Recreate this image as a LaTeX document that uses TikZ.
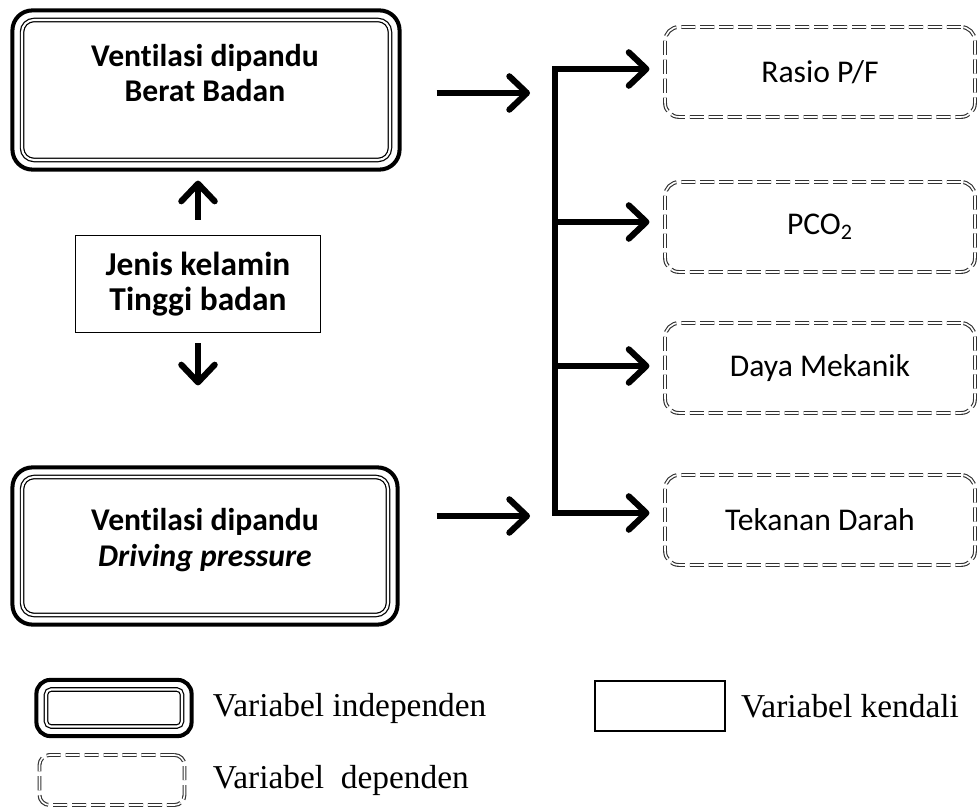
\documentclass[tikz,border=0pt]{standalone}
\usepackage{fontspec}
\setmainfont{Carlito}[Ligatures=NoCommon]
\newfontfamily\legfont{Liberation Serif}
\usetikzlibrary{arrows.meta,positioning,fit}

\begin{document}
\begin{tikzpicture}[
  x=0.02cm, y=-0.02cm,
  indep/.style={draw, double, line width=0.7pt, double distance=1.2pt, rounded corners=0.24cm, inner sep=0pt},
  frame/.style={draw, line width=2.3pt, rounded corners=0.4cm, inner sep=0.18cm},
  boxtext/.style={align=center, inner sep=0pt, font=\bfseries\fontsize{18}{20}\selectfont},
  ctrl/.style={draw, line width=0.8pt, align=center, inner sep=0pt,
               font=\bfseries\fontsize{19}{20}\selectfont},
  dep/.style={draw=black!80, double, line width=0.65pt, double distance=0.9pt,
              dash pattern=on 8pt off 2.8pt, rounded corners=0.28cm,
              minimum width=6.2cm, minimum height=1.8cm, font=\fontsize{18}{22}\selectfont},
  arr/.style={line width=3.5pt, -{Straight Barb[length=10pt, width=19pt, round]}},
  leg/.style={font=\legfont\fontsize{19}{22}\selectfont, inner sep=0pt}
]
  \useasboundingbox (0,0) rectangle (977,807);

  % independent variables
  \node[indep, minimum width=7.36cm, minimum height=2.8cm] (topin) at (206,90) {};
  \node[frame, fit=(topin)] (top) {};
  \node[boxtext] (toptxt) at (205,73) {Ventilasi dipandu\\Berat Badan};
  \node[indep, minimum width=7.32cm, minimum height=2.76cm] (botin) at (205,546) {};
  \node[frame, fit=(botin)] (bot) {};
  \node[boxtext] (bottxt) at (205,540) {Ventilasi dipandu\\\textit{Driving pressure}};

  % control variables
  \node[ctrl, minimum width=4.9cm, minimum height=1.94cm] (kendali) at (198,284) {Jenis kelamin\\Tinggi badan};

  \draw[arr, shorten <=0.3cm, shorten >=0.18cm] (kendali.north) -- (kendali.north |- top.south);
  \draw[arr, shorten <=0.2cm, shorten >=1.6cm] (kendali.south) -- (kendali.south |- bot.north);

  % dependent variables
  \node[dep] (rasio)   at (820,72)  {Rasio P/F};
  \node[dep] (pco)     at (820,227) {PCO\textsubscript{2}};
  \node[dep] (daya)    at (820,368) {Daya Mekanik};
  \node[dep] (tekanan) at (820,520) {Tekanan Darah};

  \coordinate (b1) at (555,69);
  \coordinate (b2) at (555,222);
  \coordinate (b3) at (555,366);
  \coordinate (b4) at (555,513);
  \coordinate (in1) at (555,93);
  \coordinate (in2) at (555,516);

  \draw[line width=3.8pt, line cap=rect] (b1) -- (b4);
  \draw[arr, shorten <=0.7cm, shorten >=0.5cm] (top.east |- in1) -- (in1);
  \draw[arr, shorten <=0.74cm, shorten >=0.5cm] (bot.east |- in2) -- (in2);

  \draw[arr, shorten >=0.3cm] (b1) -- (b1 -| rasio.west);
  \draw[arr, shorten >=0.3cm] (b2) -- (b2 -| pco.west);
  \draw[arr, shorten >=0.3cm] (b3) -- (b3 -| daya.west);
  \draw[arr, shorten >=0.3cm] (b4) -- (b4 -| tekanan.west);

  % legend
  \node[indep, minimum width=2.72cm, minimum height=0.74cm, rounded corners=0.1cm] (legin) at (114,708) {};
  \node[frame, fit=(legin), rounded corners=0.28cm] (legind) {};
  \node[ctrl, minimum width=2.6cm, minimum height=1.0cm] (legctrl) at (660,706) {};
  \node[dep, minimum width=2.9cm, minimum height=1.0cm, rounded corners=0.2cm] (legdep) at (112,780) {};

  \node[leg, right=0.38cm of legind] (tind) {Variabel independen};
  \node[leg, right=0.3cm of legctrl] (tken) {Variabel kendali};
  \node[leg, anchor=west] (tdep) at (tind.west |- legdep) {Variabel\ \ dependen};
\end{tikzpicture}
\end{document}
